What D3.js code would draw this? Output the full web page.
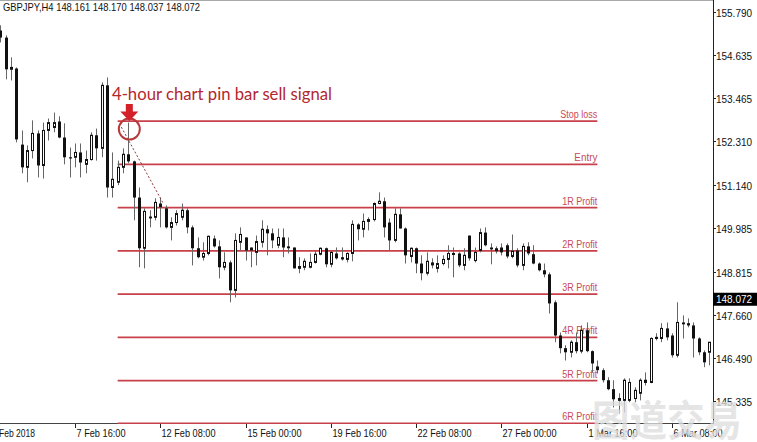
<!DOCTYPE html>
<html><head><meta charset="utf-8">
<script src="https://cdn.jsdelivr.net/npm/d3@7"></script>
<style>body{margin:0;background:#fff;} svg{display:block;}</style>
</head><body><svg id="c" width="757" height="442"></svg>
<script>
const opens=[155.28,155.09,154.24,154.26,152.22,151.61,152.06,152.52,151.66,152.60,
152.68,152.84,152.41,151.88,151.88,152.01,151.69,151.82,152.47,152.12,
153.81,151.07,151.21,151.61,151.96,151.77,150.80,149.44,150.29,150.27,
150.64,150.51,150.00,150.13,150.27,150.46,150.00,149.44,149.20,149.30,
149.70,149.49,148.93,149.06,148.31,149.60,149.73,149.46,149.33,149.60,
149.95,149.84,149.52,149.73,149.49,149.46,148.90,148.93,148.93,149.06,
149.28,149.44,149.01,149.30,149.20,149.14,149.30,150.08,149.95,150.16,
150.21,150.64,150.70,150.13,149.65,150.35,149.97,149.22,149.44,149.03,
148.77,149.06,148.90,149.03,149.14,149.28,149.30,148.98,149.78,149.11,
149.38,149.86,149.46,149.44,149.46,149.52,149.22,149.38,148.98,149.49,
149.28,149.03,148.85,148.74,147.99,147.10,146.76,146.65,146.92,146.68,
147.24,146.68,146.27,146.17,145.90,145.66,145.36,145.36,145.36,145.41,
145.55,145.84,145.84,147.02,147.02,147.29,147.10,146.57,147.45,147.43,
147.37,147.02,146.65,146.65];
const highs=[155.42,155.15,154.56,154.29,152.60,152.20,152.87,152.60,152.81,152.92,
153.08,152.98,152.79,152.14,152.25,152.25,152.06,152.55,152.65,153.89,
154.02,152.01,151.79,152.12,152.81,151.79,151.07,150.51,150.46,150.78,
150.80,150.59,150.27,150.46,150.64,150.51,150.05,149.73,149.60,149.78,
149.78,149.65,149.33,149.11,149.84,150.00,149.73,149.46,149.78,150.19,
150.05,149.97,149.97,149.97,149.73,149.46,149.20,149.17,149.30,149.38,
149.46,149.46,149.38,149.46,149.46,149.33,150.19,150.11,150.37,150.27,
150.67,150.94,150.80,150.24,150.51,150.51,150.00,149.46,149.46,149.25,
149.33,149.17,149.25,149.25,149.52,149.46,149.33,149.44,149.78,149.46,
149.97,150.00,149.57,149.49,149.57,149.57,149.81,149.44,149.57,149.60,
149.52,149.06,149.03,148.79,148.04,147.18,146.84,146.97,147.18,147.37,
147.45,146.70,146.43,146.22,145.98,145.90,145.55,145.95,145.95,145.71,
145.95,146.11,147.05,147.16,147.43,147.45,147.16,147.99,147.64,147.56,
147.45,147.05,146.70,146.92];
const lows=[154.96,153.97,153.94,152.28,151.45,151.21,151.85,151.34,151.31,152.33,
152.55,152.39,151.69,151.34,151.61,151.34,151.45,151.79,151.79,151.88,
150.80,150.80,151.13,151.45,151.72,150.19,148.93,148.90,150.00,150.19,
150.00,149.97,149.65,150.05,150.19,149.84,148.98,149.17,149.11,149.25,
149.46,148.63,148.85,147.99,148.12,149.38,149.11,148.93,148.98,149.46,
149.25,149.44,149.44,149.20,149.30,148.90,148.77,148.85,148.90,149.03,
149.25,148.93,148.93,149.14,149.11,149.06,149.09,149.65,149.73,149.92,
150.16,150.62,149.73,149.38,149.60,149.97,149.03,149.06,148.77,148.58,
148.71,148.90,148.79,148.98,148.90,148.66,148.93,148.85,149.11,149.06,
149.33,149.49,149.01,149.30,149.25,149.17,149.17,148.93,148.85,149.25,
149.01,148.82,148.66,147.69,146.92,146.62,146.43,146.51,146.62,146.62,
146.65,146.11,146.08,145.84,145.63,145.17,145.01,145.04,145.31,145.31,
145.36,145.76,145.82,146.97,146.92,146.97,146.51,146.51,147.02,147.32,
146.51,146.57,146.25,146.30];
const closes=[155.09,154.24,154.29,152.36,151.61,152.06,152.52,151.66,152.60,152.81,
152.81,152.41,151.88,151.85,152.01,151.74,151.82,152.47,152.12,153.81,
151.07,151.29,151.61,151.96,151.77,150.80,149.44,150.43,150.24,150.67,
150.54,150.00,150.13,150.37,150.46,150.00,149.44,149.20,149.30,149.76,
149.49,148.93,149.06,148.31,149.65,149.81,149.38,149.38,149.62,149.95,
149.84,149.65,149.73,149.46,149.44,148.90,148.95,149.09,149.06,149.28,
149.44,149.01,149.33,149.17,149.14,149.30,150.08,149.95,150.16,150.21,
150.64,150.70,150.00,149.65,150.35,149.97,149.25,149.44,149.03,148.77,
149.09,148.98,149.03,149.14,149.30,149.30,148.98,149.25,149.17,149.33,
149.86,149.52,149.41,149.36,149.33,149.22,149.36,148.98,149.49,149.30,
149.03,148.85,148.74,147.96,147.10,146.76,146.65,146.92,146.68,147.24,
146.68,146.35,146.17,145.90,145.66,145.39,145.41,145.90,145.84,145.63,
145.90,145.90,147.02,147.05,147.29,147.05,146.57,147.45,147.40,147.37,
147.02,146.65,146.38,146.92];

const tickPrices=[155.790,154.635,153.465,152.310,151.140,149.985,148.815,147.660,146.490,145.335];
const tickLabels=["155.790","154.635","153.465","152.310","151.140","149.985","148.815","147.660","146.490","145.335"];
const timeLabels=["7 Feb 16:00","12 Feb 08:00","15 Feb 00:00","19 Feb 16:00","22 Feb 08:00","27 Feb 00:00","1 Mar 16:00","6 Mar 08:00"];
const timeLabelBars=[14,30,46,62,78,94,110,126];
const firstDateLabel="Feb 2018";
const levelNames=["Stop loss","Entry","1R Profit","2R Profit","3R Profit","4R Profit","5R Profit","6R Profit"];
const levelPrices=[152.85,151.69,150.53,149.37,148.21,147.05,145.89,144.74];
const levelStartBar=22, levelEndBar=112;
const headerText="GBPJPY,H4  148.161 148.170 148.037 148.072";
const lastPrice=148.072;
const annotationText="4-hour chart pin bar sell signal";
const signalBar=24, targetBar=30;
const watermark="图道交易";

const plotRight=713, plotBottom=424;
const svg=d3.select("#c");
const x=d3.scaleLinear().domain([0,opens.length-1]).range([0.4,709.3]);
const y=d3.scaleLinear().domain([145.335,155.79]).range([401.3,11.5]);

svg.append("rect").attr("width",757).attr("height",442).attr("fill","#fff");
svg.append("defs").append("clipPath").attr("id","plot").append("rect")
  .attr("x",0).attr("y",0).attr("width",plotRight).attr("height",plotBottom);

// frame
svg.append("line").attr("x1",0).attr("x2",plotRight).attr("y1",0.5).attr("y2",0.5).attr("stroke","#a8a8a8");
svg.append("line").attr("x1",plotRight+0.5).attr("x2",plotRight+0.5).attr("y1",0).attr("y2",plotBottom).attr("stroke","#222");
svg.append("line").attr("x1",0).attr("x2",plotRight).attr("y1",plotBottom-0.5).attr("y2",plotBottom-0.5).attr("stroke","#444");

const plot=svg.append("g").attr("clip-path","url(#plot)");

// header
svg.append("text").attr("x",3).attr("y",11).attr("font-family","Liberation Sans, Arial, sans-serif")
  .attr("font-size",10.5).attr("fill","#111").attr("textLength",197).attr("lengthAdjust","spacingAndGlyphs")
  .text(headerText);

// level lines
const lv=plot.append("g");
levelPrices.forEach((p,k)=>{
  const yy=y(p);
  lv.append("line").attr("x1",x(levelStartBar)).attr("x2",x(levelEndBar)).attr("y1",yy).attr("y2",yy)
    .attr("stroke","#c8404a").attr("stroke-width",1.8);
  const name=levelNames[k];
  const len= name==="Stop loss"?37:(name==="Entry"?23:35);
  lv.append("text").attr("x",x(levelEndBar)).attr("y",yy-3).attr("text-anchor","end")
    .attr("font-family","Liberation Sans, Arial, sans-serif").attr("font-size",10)
    .attr("fill","#c94a56").attr("textLength",len).attr("lengthAdjust","spacingAndGlyphs").text(name);
});

// candles
const cg=plot.append("g");
opens.forEach((o,i)=>{
  const c=closes[i], h=highs[i], l=lows[i];
  const cx=Math.round(x(i));
  cg.append("line").attr("x1",cx+0.5).attr("x2",cx+0.5).attr("y1",y(h)).attr("y2",y(l))
    .attr("stroke","#666").attr("stroke-width",1);
  const top=y(Math.max(o,c)), bot=y(Math.min(o,c));
  if(c>=o){
    cg.append("rect").attr("x",cx-0.5).attr("y",top).attr("width",2).attr("height",Math.max(1,bot-top))
      .attr("fill","#fff").attr("stroke","#111").attr("stroke-width",1);
  } else {
    cg.append("rect").attr("x",cx-1).attr("y",top).attr("width",3).attr("height",Math.max(1.2,bot-top))
      .attr("fill","#111");
  }
});

// annotation
const ax=x(signalBar)+1, ay=y(highs[signalBar]);
plot.append("line").attr("x1",x(signalBar)-7).attr("y1",ay+4.5).attr("x2",x(targetBar)+2.5).attr("y2",y(highs[targetBar])+5)
  .attr("stroke","#8b3a3a").attr("stroke-width",1).attr("stroke-dasharray","2,2");
plot.append("circle").attr("cx",ax).attr("cy",ay+6.5).attr("r",10.5).attr("fill","none")
  .attr("stroke","#b8383c").attr("stroke-width",2);
plot.append("path").attr("d",`M${ax-3.5},${ay-18.5} L${ax+3.5},${ay-18.5} L${ax+3.5},${ay-11} L${ax+9},${ay-11} L${ax},${ay-1.5} L${ax-9},${ay-11} L${ax-3.5},${ay-11} Z`)
  .attr("fill","#d42029");
svg.append("text").attr("x",112).attr("y",100).attr("font-family","Lato, 'Open Sans', sans-serif")
  .attr("font-size",16.5).attr("fill","#b3262e").attr("textLength",220).attr("lengthAdjust","spacingAndGlyphs")
  .text(annotationText);

// y axis
const ya=svg.append("g");
tickPrices.forEach((p,k)=>{
  const yy=Math.round(y(p))+0.5;
  ya.append("line").attr("x1",plotRight).attr("x2",plotRight+3).attr("y1",yy).attr("y2",yy).attr("stroke","#222");
  ya.append("text").attr("x",716).attr("y",yy+4).attr("font-family","Liberation Sans, Arial, sans-serif")
    .attr("font-size",10.5).attr("fill","#111").attr("textLength",36).attr("lengthAdjust","spacingAndGlyphs")
    .text(tickLabels[k]);
});
const ly=y(lastPrice);
svg.append("rect").attr("x",plotRight).attr("y",ly-6.5).attr("width",44).attr("height",13).attr("fill","#000");
svg.append("text").attr("x",716).attr("y",ly+4).attr("font-family","Liberation Sans, Arial, sans-serif")
  .attr("font-size",10.5).attr("fill","#fff").attr("textLength",36).attr("lengthAdjust","spacingAndGlyphs")
  .text(d3.format(".3f")(lastPrice));

// x axis
const xa=svg.append("g");
xa.append("text").attr("x",-1).attr("y",436.5).attr("font-family","Liberation Sans, Arial, sans-serif")
  .attr("font-size",10.5).attr("fill","#111").attr("textLength",36).attr("lengthAdjust","spacingAndGlyphs").text(firstDateLabel);
timeLabelBars.forEach((b,k)=>{
  const xt=Math.round(x(b))+0.5;
  xa.append("line").attr("x1",xt).attr("x2",xt).attr("y1",plotBottom).attr("y2",plotBottom+4).attr("stroke","#222");
  const t=timeLabels[k];
  const len=t.length>=12?54:49;
  xa.append("text").attr("x",xt+1).attr("y",436.5).attr("font-family","Liberation Sans, Arial, sans-serif")
    .attr("font-size",10.5).attr("fill","#111").attr("textLength",len).attr("lengthAdjust","spacingAndGlyphs").text(t);
});

// watermark
svg.append("text").attr("x",592).attr("y",436).attr("font-family","'Noto Sans CJK SC', sans-serif")
  .attr("font-weight",700).attr("font-size",42).attr("fill","rgba(222,222,222,0.78)")
  .attr("textLength",150).attr("lengthAdjust","spacingAndGlyphs").text(watermark);
</script></body></html>
